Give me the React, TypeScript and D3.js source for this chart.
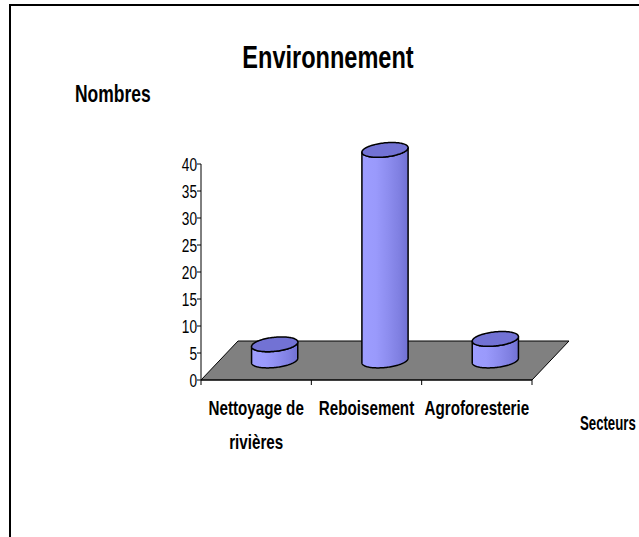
import * as d3 from "d3";

const categories = ["Nettoyage de rivières", "Reboisement", "Agroforesterie"];
const values = [3, 39, 4];
const yTicks = [0, 5, 10, 15, 20, 25, 30, 35, 40];
const title = "Environnement";
const yTitle = "Nombres";
const xTitle = "Secteurs";

const FONT = "'Liberation Sans', Arial, sans-serif";
const SX = 0.76; // the original text is horizontally squeezed

// floor depth offset (oblique projection)
const depth = { dx: 37, dy: -39 };

// rough label wrap using canvas metrics
const wrap = (label: string, maxWidth: number, font: string) => {
  const ctx = document.createElement("canvas").getContext("2d");
  if (!ctx) return [label];
  ctx.font = font;
  const words = label.split(" ");
  const lines: string[] = [];
  let cur = "";
  words.forEach((w) => {
    const next = cur ? cur + " " + w : w;
    if (ctx.measureText(next).width * SX > maxWidth && cur) {
      lines.push(cur);
      cur = w;
    } else cur = next;
  });
  if (cur) lines.push(cur);
  return lines;
};

const Squeezed = ({
  x,
  y,
  size,
  weight,
  anchor,
  sx,
  children,
}: {
  x: number;
  y: number;
  size: number;
  weight?: string;
  anchor?: string;
  sx?: number;
  children: string;
}) => (
  <text
    transform={`translate(${x},${y}) scale(${sx || SX},1)`}
    fontSize={size}
    fontWeight={weight || "normal"}
    fontFamily={FONT}
    textAnchor={anchor || "start"}
    fill="#000"
  >
    {children}
  </text>
);

export default function App() {
  const width = 639;
  const height = 537;

  const xScale = d3.scaleBand().domain(categories).range([201, 532]).padding(0);
  const yScale = d3.scaleLinear().domain([0, 40]).range([380, 164]);

  const x0 = xScale.range()[0];
  const x1 = xScale.range()[1];
  const y0 = yScale(0);

  const floor = [
    [x0, y0],
    [x1, y0],
    [x1 + depth.dx, y0 + depth.dy],
    [x0 + depth.dx, y0 + depth.dy],
  ];

  // cylinder geometry
  const a = 22; // x radius
  const k = 0.19; // depth radius as part of the depth vector
  const bx = depth.dx * k;
  const by = depth.dy * k;
  const t0 = Math.atan2(bx, a);
  const pt = (cx: number, cy: number, t: number): [number, number] => [
    cx + a * Math.cos(t) + bx * Math.sin(t),
    cy + by * Math.sin(t),
  ];
  const line = d3.line().curve(d3.curveLinear);
  const steps = d3.range(0, 61).map((i) => i / 60);

  const labelFont = `bold 19px ${FONT}`;

  return (
    <svg
      width={width}
      height={height}
      style={{ position: "absolute", left: 0, top: 0, background: "#fff" }}
    >
      <defs>
        <linearGradient id="side" x1="0" x2="1" y1="0" y2="0">
          <stop offset="0" stopColor="#9d9dff" />
          <stop offset="0.3" stopColor="#9a9afc" />
          <stop offset="0.55" stopColor="#8e8ef0" />
          <stop offset="0.8" stopColor="#8080e2" />
          <stop offset="1" stopColor="#7070d2" />
        </linearGradient>
      </defs>

      {/* chart frame */}
      <rect x={10} y={5} width={700} height={600} fill="none" stroke="#000" strokeWidth={2} />

      <Squeezed x={328} y={68} size={31} weight="bold" anchor="middle">
        {title}
      </Squeezed>
      <Squeezed x={75} y={102} size={23} weight="bold">
        {yTitle}
      </Squeezed>

      {/* floor */}
      <polygon
        points={floor.map((p) => p.join(",")).join(" ")}
        fill="#808080"
        stroke="#000"
        strokeWidth={1}
      />

      {/* y axis */}
      <line x1={x0} x2={x0} y1={yScale(40)} y2={y0} stroke="#000" />
      {yTicks.map((t) => (
        <g key={t}>
          <line x1={x0 - 4} x2={x0} y1={yScale(t)} y2={yScale(t)} stroke="#000" />
          <Squeezed x={x0 - 4} y={yScale(t) + 6.5} size={18} anchor="end">
            {String(t)}
          </Squeezed>
        </g>
      ))}

      {/* x axis ticks */}
      <line x1={x0} x2={x1} y1={y0} y2={y0} stroke="#000" />
      {[...categories.map((c) => xScale(c) || 0), x1].map((x, i) => (
        <line key={i} x1={x} x2={x} y1={y0} y2={y0 + 5} stroke="#000" />
      ))}

      {/* cylinders */}
      {categories.map((c, i) => {
        const cx = (xScale(c) || 0) + xScale.bandwidth() / 2 + depth.dx / 2;
        const cyBot = y0 + depth.dy / 2;
        const cyTop = yScale(values[i]) + depth.dy / 2;
        const frontTop = steps.map((s) => pt(cx, cyTop, t0 - Math.PI * s));
        const frontBot = steps.map((s) => pt(cx, cyBot, t0 - Math.PI * s));
        const sidePts = [...frontBot, ...frontTop.slice().reverse()];
        const topPts = d3.range(0, 121).map((j) => pt(cx, cyTop, (j / 120) * Math.PI * 2));
        return (
          <g key={c}>
            <path
              d={line(sidePts) + "Z"}
              fill="url(#side)"
              stroke="#000"
              strokeWidth={1.5}
              strokeLinejoin="round"
            />
            <path
              d={line(topPts) + "Z"}
              fill="#7272d4"
              stroke="#000"
              strokeWidth={1.5}
            />
          </g>
        );
      })}

      {/* category labels */}
      {categories.map((c) => {
        const lines = wrap(c, xScale.bandwidth(), labelFont);
        const cx = (xScale(c) || 0) + xScale.bandwidth() / 2;
        return lines.map((l, j) => (
          <Squeezed key={c + j} x={cx} y={415 + j * 34} size={20} weight="bold" anchor="middle">
            {l}
          </Squeezed>
        ));
      })}

      <Squeezed x={580} y={430} size={20} weight="bold" sx={0.66}>
        {xTitle}
      </Squeezed>
    </svg>
  );
}
